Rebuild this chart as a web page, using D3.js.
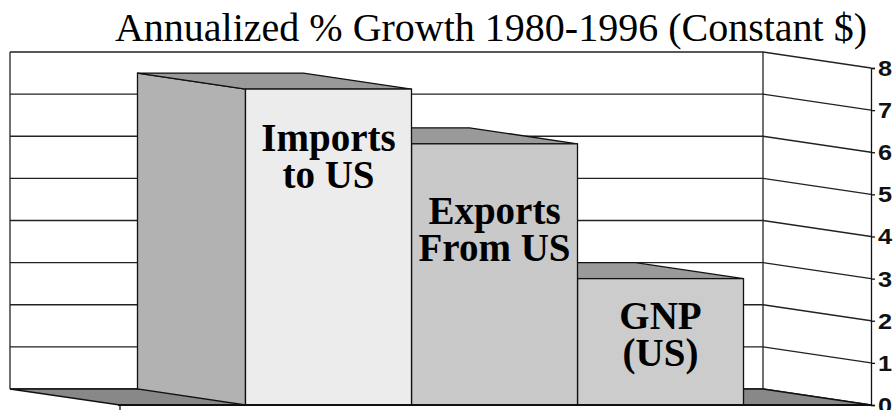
<!DOCTYPE html>
<html>
<head>
<meta charset="utf-8">
<script src="https://cdn.jsdelivr.net/npm/d3@7/dist/d3.min.js"></script>
<style>
  body { margin: 0; background: #fff; }
  svg { display: block; }
</style>
</head>
<body>
<svg id="chart" width="896" height="410"></svg>
<script>
// data
var categories = ["Imports", "Exports", "GNP"];
var labels = [["Imports", "to US"], ["Exports", "From US"], ["GNP", "(US)"]];
var values = [7.5, 6.2, 3.0];
var ticks = [0, 1, 2, 3, 4, 5, 6, 7, 8];
var title = "Annualized % Growth 1980-1996 (Constant $)";

var fills = ["#ececec", "#c9c9c9", "#cccccc"];
var labelDy = [62, 80, 50];   // baseline of first label line below bar top

var svg = d3.select("#chart");
var dx = -108, dy = -16;   // depth offset towards back wall

var x = d3.scaleBand().domain(categories).range([118, 871])
  .paddingInner(0).paddingOuter(0.768);
var y = d3.scaleLinear().domain([0, 8]).range([405, 68]);

var x0 = 118, x1 = 871;

// title
svg.append("text")
  .attr("x", 491).attr("y", 41)
  .attr("text-anchor", "middle")
  .style("font-family", "'Liberation Serif', 'Times New Roman', serif")
  .style("font-size", "40px")
  .text(title);

// back wall
svg.append("rect")
  .attr("x", x0 + dx).attr("y", y(8) + dy)
  .attr("width", x1 - x0).attr("height", y(0) - y(8))
  .attr("fill", "#fff");

// gridlines: back wall + right wall
var grid = svg.append("g").attr("stroke", "#222").attr("stroke-width", 1.3).attr("fill", "none");
ticks.forEach(function (t) {
  grid.append("polyline")
    .attr("points", [[x0 + dx, y(t) + dy], [x1 + dx, y(t) + dy], [x1, y(t)]].join(" "));
});
grid.append("line")
  .attr("x1", x0 + dx).attr("x2", x0 + dx)
  .attr("y1", y(8) + dy).attr("y2", y(0) + dy);
grid.append("line")
  .attr("x1", x1 + dx).attr("x2", x1 + dx)
  .attr("y1", y(8) + dy).attr("y2", y(0) + dy);

// floor
svg.append("polygon")
  .attr("points", [[x0 + dx, y(0) + dy], [x1 + dx, y(0) + dy], [x1, y(0)], [x0 + 2, y(0)]].join(" "))
  .attr("fill", "#888").attr("stroke", "#111").attr("stroke-width", 1.3);

// bars, drawn right to left so nearer faces cover the ones behind
var order = d3.range(categories.length).reverse();
order.forEach(function (i) {
  var c = categories[i];
  var bx0 = x(c), bx1 = x(c) + x.bandwidth();
  var top = y(values[i]), base = y(0);
  var g = svg.append("g").attr("stroke", "#111").attr("stroke-width", 1.3);

  // left side
  g.append("polygon")
    .attr("points", [[bx0 + dx, top + dy], [bx0, top], [bx0, base], [bx0 + dx, base + dy]].join(" "))
    .attr("fill", "#b2b2b2");
  // top
  g.append("polygon")
    .attr("points", [[bx0 + dx, top + dy], [bx1 + dx, top + dy], [bx1, top], [bx0, top]].join(" "))
    .attr("fill", "#9a9a9a");
  // front
  g.append("rect")
    .attr("x", bx0).attr("y", top)
    .attr("width", bx1 - bx0).attr("height", base - top)
    .attr("fill", fills[i]);
});

// front floor edge
svg.append("line")
  .attr("x1", x0).attr("x2", x1)
  .attr("y1", y(0)).attr("y2", y(0))
  .attr("stroke", "#111").attr("stroke-width", 2.2);
svg.append("line")
  .attr("x1", x0 + 2).attr("x2", x0 + 2)
  .attr("y1", y(0)).attr("y2", 410)
  .attr("stroke", "#111").attr("stroke-width", 1.3);

// bar labels
categories.forEach(function (c, i) {
  var t = svg.append("text")
    .attr("text-anchor", "middle")
    .style("font-family", "'Liberation Serif', 'Times New Roman', serif")
    .style("font-weight", "bold")
    .style("font-size", "39px");
  labels[i].forEach(function (line, j) {
    t.append("tspan")
      .attr("x", x(c) + x.bandwidth() / 2)
      .attr("y", y(values[i]) + labelDy[i] + j * 37)
      .text(line);
  });
});

// right axis (line + ticks from d3, labels drawn wider like the original)
var axis = svg.append("g")
  .attr("transform", "translate(" + x1 + ",0)")
  .call(d3.axisRight(y).tickValues(ticks).tickSize(4).tickFormat(""));
axis.select(".domain").attr("stroke", "#111").attr("stroke-width", 1.3);
axis.selectAll(".tick line").attr("stroke", "#111").attr("stroke-width", 1.3);

var sx = 1.15;
svg.append("g")
  .attr("transform", "translate(" + (x1 + 7) + ",0) scale(" + sx + ",1)")
  .selectAll("text")
  .data(ticks)
  .join("text")
  .attr("x", 0)
  .attr("y", function (d) { return y(d); })
  .attr("dy", "0.36em")
  .attr("fill", "#111")
  .style("font-family", "'Liberation Sans', Arial, sans-serif")
  .style("font-weight", "bold")
  .style("font-size", "22px")
  .text(d3.format("d"));
</script>
</body>
</html>
